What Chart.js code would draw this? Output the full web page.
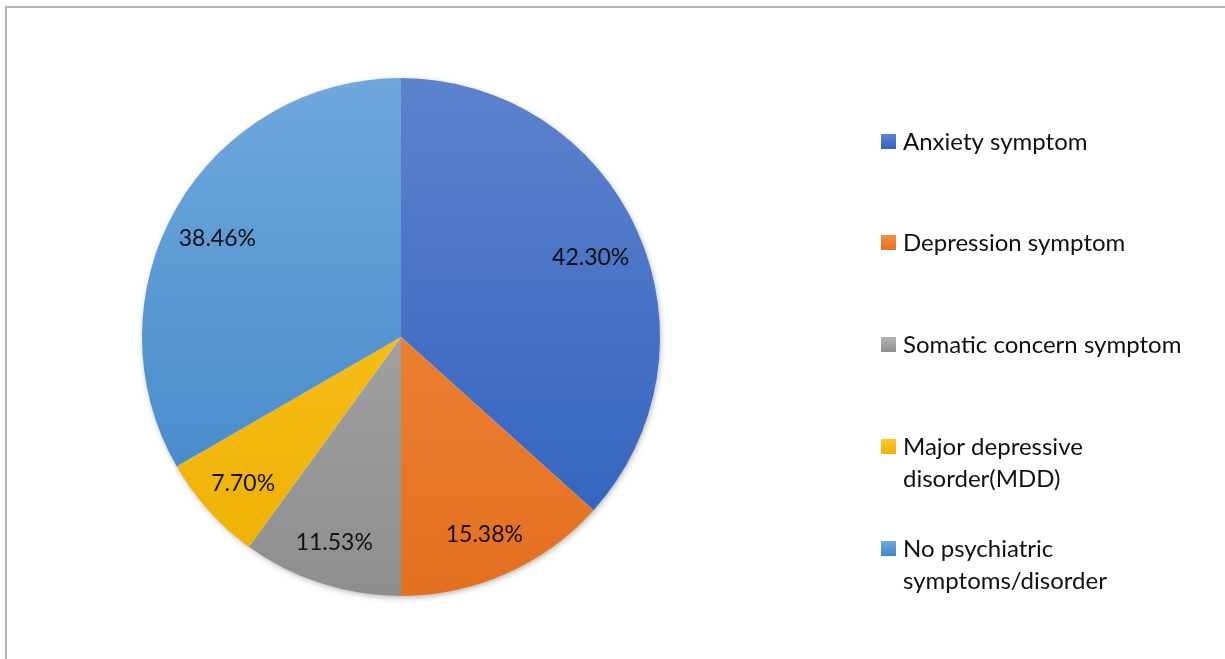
<!DOCTYPE html>
<html>
<head>
<meta charset="utf-8">
<script src="https://cdn.jsdelivr.net/npm/chart.js@4"></script>
<style>
  html, body { margin: 0; padding: 0; background: #fff; }
  #wrap { position: relative; width: 1225px; height: 659px; }
</style>
</head>
<body>
<div id="wrap"><canvas id="myChart"></canvas></div>
<script>
// categories and their shares
const categories = [
    'Anxiety symptom',
    'Depression symptom',
    'Somatic concern symptom',
    ['Major depressive', 'disorder(MDD)'],
    ['No psychiatric', 'symptoms/disorder']
];
const shares = [42.30, 15.38, 11.53, 7.70, 38.46];

// light (top) / dark (bottom) stops for each slice
const topColors = ['#5d82cd', '#f58c43', '#b3b3b3', '#ffc82e', '#6ea8dd'];
const bottomColors = ['#2e5fbd', '#e3701f', '#8e8e8e', '#edb000', '#3f83c6'];

const FONT = 'Lato, "Liberation Sans", sans-serif';

function sliceFill(ctx) {
    const chart = ctx.chart;
    const area = chart.chartArea;
    const i = ctx.dataIndex;
    if (!area) return topColors[i];
    const g = chart.ctx.createLinearGradient(0, area.top, 0, area.bottom);
    g.addColorStop(0, topColors[i]);
    g.addColorStop(1, bottomColors[i]);
    return g;
}

// frame lines, shadow under the pie, value labels and the legend
const decor = {
    id: 'decor',
    beforeDraw(chart) {
        const c = chart.ctx;
        c.save();
        c.strokeStyle = '#b4b4b4';
        c.lineWidth = 2;
        c.beginPath();
        c.moveTo(6, 659);
        c.lineTo(6, 7);
        c.lineTo(1225, 7);
        c.stroke();
        c.restore();
    },
    beforeDatasetsDraw(chart) {
        const arc = chart.getDatasetMeta(0).data[0];
        if (!arc) return;
        const c = chart.ctx;
        c.save();
        c.shadowColor = 'rgba(0,0,0,0.35)';
        c.shadowBlur = 6;
        c.shadowOffsetX = 1;
        c.shadowOffsetY = 2;
        c.fillStyle = '#ffffff';
        c.beginPath();
        c.arc(arc.x, arc.y, arc.outerRadius - 1, 0, Math.PI * 2);
        c.fill();
        c.restore();
    },
    afterDatasetsDraw(chart) {
        const c = chart.ctx;
        const meta = chart.getDatasetMeta(0);
        c.save();
        c.font = '23px ' + FONT;
        c.fillStyle = '#111';
        c.textAlign = 'center';
        c.textBaseline = 'middle';
        meta.data.forEach((arc, i) => {
            const mid = (arc.startAngle + arc.endAngle) / 2;
            const r = arc.outerRadius * 0.81;
            c.fillText(shares[i].toFixed(2) + '%', arc.x + Math.cos(mid) * r - 2, arc.y + Math.sin(mid) * r + 6);
        });

        // legend
        const x0 = 881, tx = 903;
        const rowTop = [142, 243, 345, 447, 549];
        const lineH = 32;
        c.font = '24px ' + FONT;
        c.textAlign = 'left';
        categories.forEach((lab, i) => {
            const lines = Array.isArray(lab) ? lab : [lab];
            const y = rowTop[i];
            const g = c.createLinearGradient(0, y - 8, 0, y + 8);
            g.addColorStop(0, topColors[i]);
            g.addColorStop(1, bottomColors[i]);
            c.fillStyle = g;
            c.fillRect(x0, y - 8, 15, 15);
            c.fillStyle = '#111';
            lines.forEach((t, k) => c.fillText(t, tx, y + k * lineH));
        });
        c.restore();
    }
};

new Chart(document.getElementById('myChart'), {
    type: 'pie',
    data: {
        labels: categories,
        datasets: [{
            data: shares,
            backgroundColor: sliceFill,
            borderWidth: 0
        }]
    },
    options: {
        responsive: true,
        maintainAspectRatio: false,
        animation: false,
        layout: { padding: { left: 142, top: 78, right: 565, bottom: 63 } },
        plugins: {
            legend: { display: false },
            tooltip: { enabled: false }
        }
    },
    plugins: [decor]
});
</script>
</body>
</html>
